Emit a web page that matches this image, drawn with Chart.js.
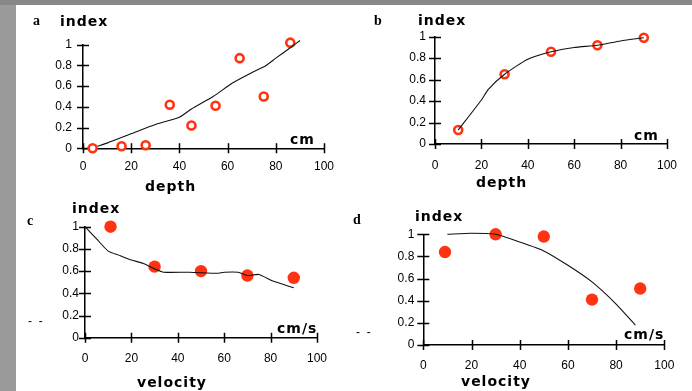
<!DOCTYPE html>
<html>
<head>
<meta charset="utf-8">
<script src="https://cdn.jsdelivr.net/npm/chart.js@4.4.1/dist/chart.umd.min.js"></script>
<style>
  body { margin: 0; width: 692px; height: 391px; background: #fff; position: relative; overflow: hidden; }
  .edge-left { position: absolute; left: 0; top: 0; width: 16px; height: 391px; background: #9a9a9a; }
  .edge-top { position: absolute; left: 0; top: 0; width: 692px; height: 5px; background: #888; }
  canvas { position: absolute; }
  .lbl { position: absolute; font: bold 14px "DejaVu Sans"; letter-spacing: 1px; line-height: 16px; white-space: nowrap; color: #000; }
  .tag { position: absolute; font: bold 14px "Liberation Serif"; line-height: 16px; color: #000; }
  .dash { position: absolute; font: 12px "Liberation Sans"; line-height: 14px; color: #000; white-space: pre; }
</style>
</head>
<body>
<div class="edge-left"></div>
<div class="edge-top"></div>

<canvas id="chartA" width="330" height="190" style="left:16px;top:5px"></canvas>
<canvas id="chartB" width="346" height="190" style="left:346px;top:5px"></canvas>
<canvas id="chartC" width="330" height="196" style="left:16px;top:195px"></canvas>
<canvas id="chartD" width="346" height="196" style="left:346px;top:195px"></canvas>

<div class="tag" style="left:33px;top:13px">a</div>
<div class="lbl" style="left:60px;top:13px">index</div>
<div class="lbl" style="left:290px;top:131px">cm</div>
<div class="lbl" style="left:145px;top:178px">depth</div>

<div class="tag" style="left:374px;top:13px">b</div>
<div class="lbl" style="left:418px;top:12px">index</div>
<div class="lbl" style="left:634px;top:127px">cm</div>
<div class="lbl" style="left:476px;top:174px">depth</div>

<div class="tag" style="left:27px;top:213px">c</div>
<div class="lbl" style="left:72px;top:200px">index</div>
<div class="lbl" style="left:277px;top:320px">cm/s</div>
<div class="lbl" style="left:137px;top:374px">velocity</div>
<div class="dash" style="left:28px;top:314px">-  -</div>

<div class="tag" style="left:353px;top:212px">d</div>
<div class="lbl" style="left:415px;top:208px">index</div>
<div class="lbl" style="left:624px;top:326px">cm/s</div>
<div class="lbl" style="left:461px;top:373px">velocity</div>
<div class="dash" style="left:356px;top:325px">-  -</div>

<script>
const xTicks = [0, 20, 40, 60, 80, 100];
const yTicks = [0, 0.2, 0.4, 0.6, 0.8, 1];
const yTickLabels = ['0', '0.2', '0.4', '0.6', '0.8', '1'];

// a: index vs depth
const depthA = [4, 16, 26, 36, 45, 55, 65, 75, 86];
const indexA = [0, 0.02, 0.03, 0.42, 0.22, 0.41, 0.87, 0.5, 1.02];
const fitDepthA = [6, 10, 20, 30, 40, 45, 54, 62, 70, 76, 80, 86, 90];
const fitIndexA = [0.02, 0.05, 0.14, 0.23, 0.3, 0.38, 0.5, 0.63, 0.73, 0.8, 0.87, 0.97, 1.04];

// b: index vs depth
const depthB = [10, 30, 50, 70, 90];
const indexB = [0.13, 0.65, 0.86, 0.92, 0.99];
const fitDepthB = [10, 20, 23, 30, 40, 50, 60, 70, 80, 90];
const fitIndexB = [0.13, 0.41, 0.51, 0.65, 0.79, 0.86, 0.9, 0.92, 0.96, 0.99];

// c: index vs velocity
const velC = [11, 30, 50, 70, 90];
const indexC = [1.0, 0.64, 0.6, 0.56, 0.54];
const fitVelC = [0, 5, 10, 15, 20, 25, 30, 34, 45, 57, 60, 66, 70, 75, 81, 90];
const fitIndexC = [1, 0.89, 0.78, 0.74, 0.7, 0.67, 0.62, 0.59, 0.59, 0.58, 0.59, 0.59, 0.56, 0.57, 0.51, 0.45];

// d: index vs velocity
const velD = [9, 30, 50, 70, 90];
const indexD = [0.84, 1.0, 0.98, 0.41, 0.51];
const fitVelD = [10, 20, 30, 40, 50, 60, 70, 80, 88];
const fitIndexD = [1.0, 1.01, 1.0, 0.93, 0.85, 0.72, 0.57, 0.37, 0.18];

const RED = '#ff3311';
const pts = (xs, ys) => xs.map((x, i) => ({ x, y: ys[i] }));

// tick marks that cross the axis line, like the original plots
const crossTicks = {
  id: 'crossTicks',
  beforeDatasetsDraw(chart) {
    const { ctx, scales: { x, y } } = chart;
    ctx.save();
    ctx.strokeStyle = '#000';
    ctx.lineWidth = 1.5;
    ctx.beginPath();
    xTicks.forEach(v => {
      const px = Math.round(x.getPixelForValue(v)) + 0.5;
      ctx.moveTo(px, x.top - 5);
      ctx.lineTo(px, x.top + 5);
    });
    yTicks.forEach(v => {
      const py = Math.round(y.getPixelForValue(v)) + 0.5;
      ctx.moveTo(y.right - 6, py);
      ctx.lineTo(y.right + 6, py);
    });
    ctx.stroke();
    ctx.restore();
  }
};

function makeChart(id, geo, marks, fit, hollow) {
  const tickFont = { family: 'Liberation Sans', size: 12 };
  new Chart(document.getElementById(id), {
    type: 'scatter',
    data: {
      datasets: [
        {
          data: fit, showLine: true, pointRadius: 0,
          borderColor: '#111', borderWidth: 1.1, tension: 0.2,
        },
        {
          data: marks,
          pointRadius: hollow ? 4 : 6.2,
          borderWidth: hollow ? 2.6 : 0,
          borderColor: RED,
          backgroundColor: hollow ? '#fff' : RED,
        }
      ]
    },
    options: {
      responsive: false, animation: false,
      clip: false,
      layout: { padding: { left: 0, top: geo.top, right: geo.right, bottom: 0 } },
      plugins: { legend: { display: false }, tooltip: { enabled: false } },
      scales: {
        x: {
          type: 'linear', min: 0, max: 100,
          afterBuildTicks: s => { s.ticks = xTicks.map(v => ({ value: v })); },
          afterFit: s => { s.height = geo.xh; },
          grid: { display: false, drawTicks: false },
          border: { display: true, color: '#000', width: 1.5 },
          ticks: { padding: geo.xpad, color: '#000', font: tickFont, maxRotation: 0 }
        },
        y: {
          type: 'linear', min: 0, max: 1,
          afterBuildTicks: s => { s.ticks = yTicks.map(v => ({ value: v })); },
          afterFit: s => { s.width = geo.yw; },
          grid: { display: false, drawTicks: false },
          border: { display: true, color: '#000', width: 1.5 },
          ticks: {
            padding: geo.ypad, color: '#000', font: tickFont,
            callback: v => yTickLabels[yTicks.indexOf(v)]
          }
        }
      }
    },
    plugins: [crossTicks]
  });
}

makeChart('chartA', { top: 39.7, right: 22, xh: 46.7, yw: 67, xpad: 11, ypad: 11 },
  pts(depthA, indexA), pts(fitDepthA, fitIndexA), true);
makeChart('chartB', { top: 31.7, right: 25, xh: 51, yw: 89, xpad: 14.5, ypad: 9 },
  pts(depthB, indexB), pts(fitDepthB, fitIndexB), true);
makeChart('chartC', { top: 31.7, right: 29, xh: 53.3, yw: 69, xpad: 13.4, ypad: 6 },
  pts(velC, indexC), pts(fitVelC, fitIndexC), false);
makeChart('chartD', { top: 39.3, right: 27.7, xh: 46, yw: 77.3, xpad: 13.6, ypad: 9 },
  pts(velD, indexD), pts(fitVelD, fitIndexD), false);
</script>
</body>
</html>
